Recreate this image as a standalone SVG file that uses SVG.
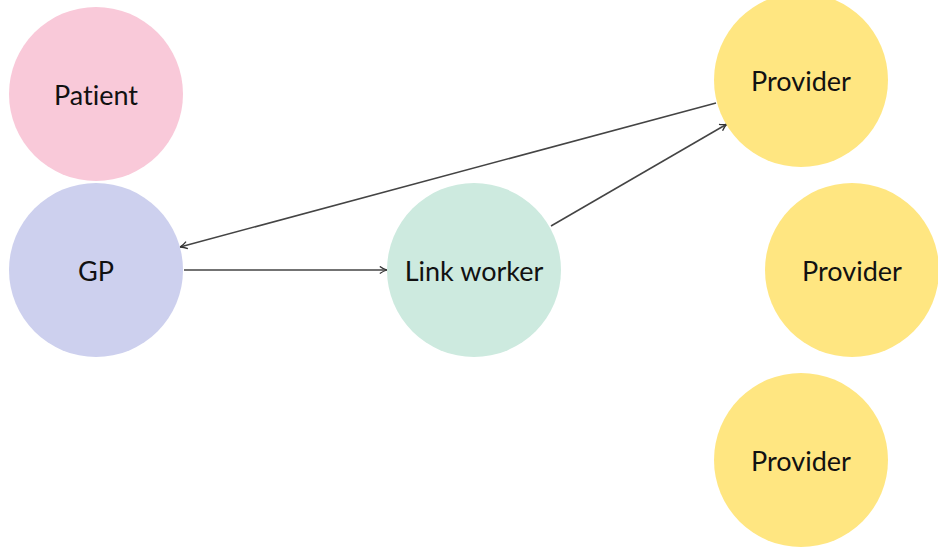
<svg xmlns="http://www.w3.org/2000/svg" width="938" height="547" viewBox="0 0 938 547">
  <style>
    .label { font-family: Lato, "Open Sans", sans-serif; font-size: 27px; fill: #111; text-anchor: middle; dominant-baseline: central; font-variant-ligatures: none; }
    .edge { stroke: #444; stroke-width: 1.5; fill: none; marker-end: url(#arrow); }
  </style>
  <defs>
    <marker id="arrow" viewBox="0 0 10 10" refX="9" refY="5" markerWidth="9" markerHeight="9" markerUnits="userSpaceOnUse" orient="auto">
      <path d="M1,1 Q5,4 9,5 Q5,6 1,9" fill="none" stroke="#333" stroke-width="1.4"/>
    </marker>
  </defs>
  <rect width="938" height="547" fill="#ffffff"/>
  <g id="connectors">
    <line class="edge" x1="184" y1="270" x2="387" y2="270"/>
    <line class="edge" x1="716" y1="103" x2="180" y2="247"/>
    <line class="edge" x1="551" y1="226" x2="727" y2="124"/>
  </g>
  <g id="patient">
    <circle cx="96" cy="94" r="87" fill="#f9c9d9"/>
    <text class="label" x="96" y="94">Patient</text>
  </g>
  <g id="gp">
    <circle cx="96" cy="270" r="87" fill="#cdd0ee"/>
    <text class="label" x="96" y="270">GP</text>
  </g>
  <g id="link-worker">
    <circle cx="474" cy="270" r="87" fill="#cdeadf"/>
    <text class="label" x="474" y="270">Link worker</text>
  </g>
  <g id="provider-1">
    <circle cx="801" cy="80" r="87" fill="#ffe681"/>
    <text class="label" x="801" y="80">Provider</text>
  </g>
  <g id="provider-2">
    <circle cx="852" cy="270" r="87" fill="#ffe681"/>
    <text class="label" x="852" y="270">Provider</text>
  </g>
  <g id="provider-3">
    <circle cx="801" cy="460" r="87" fill="#ffe681"/>
    <text class="label" x="801" y="460">Provider</text>
  </g>
</svg>
